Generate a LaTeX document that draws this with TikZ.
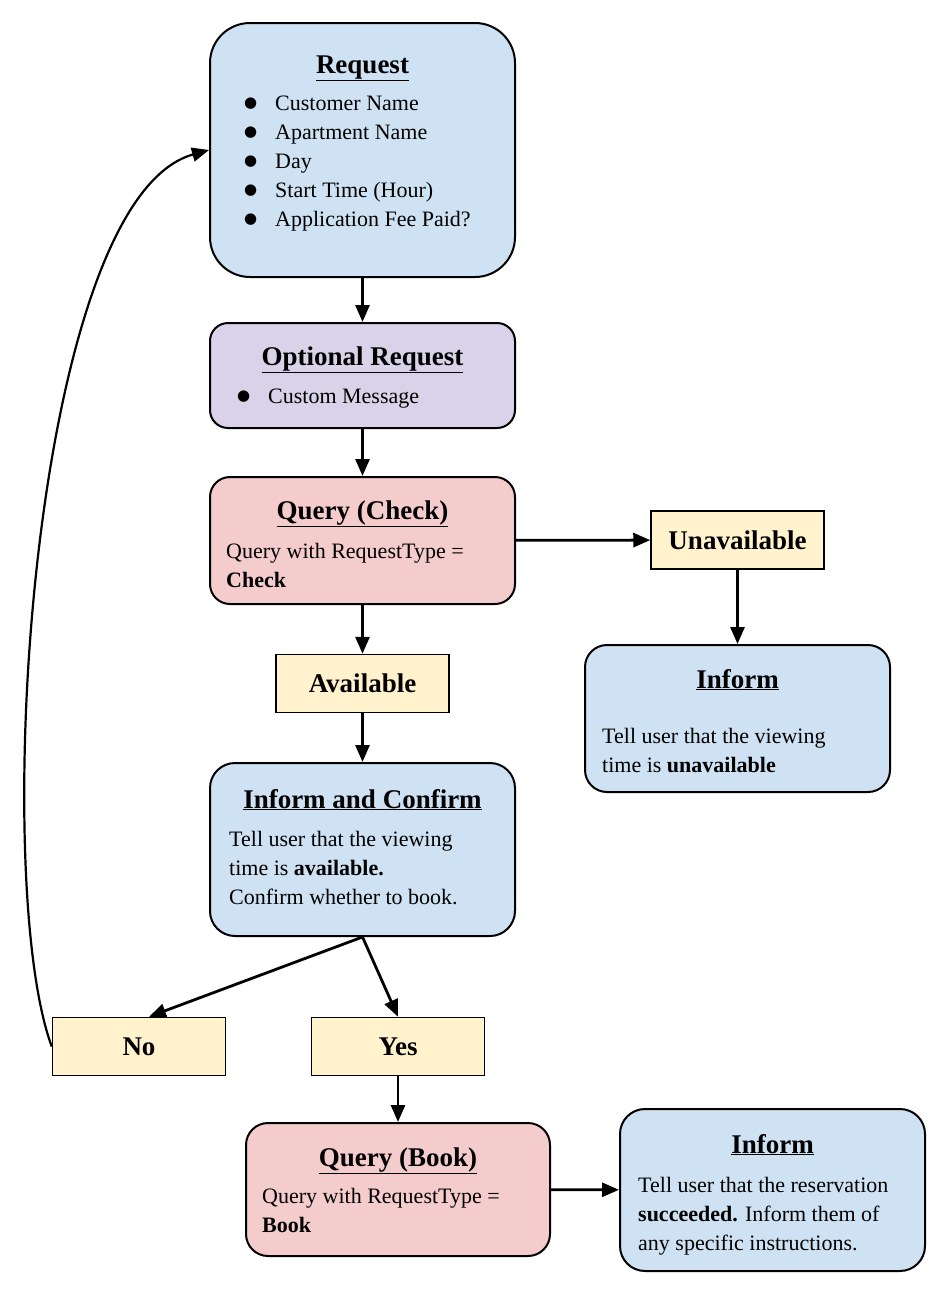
\documentclass[tikz,border=0pt]{standalone}
\usepackage{fontspec}
\setmainfont{Liberation Serif}
\newfontfamily\symfont{DejaVu Sans}
\usetikzlibrary{arrows.meta}

\definecolor{blueF}{HTML}{CFE2F3}
\definecolor{purpleF}{HTML}{D9D2E9}
\definecolor{redF}{HTML}{F4CCCC}
\definecolor{yellowF}{HTML}{FFF2CC}

\newcommand{\bul}{\makebox[31pt][l]{\symfont\fontsize{15}{29}\selectfont\raisebox{3pt}{●}}}

\begin{document}
\begin{tikzpicture}[
    x=1pt, y=-1pt,
    box/.style={draw, line width=2pt, rounded corners=#1, minimum width=305pt, inner sep=0pt},
    tag/.style={draw, line width=1.5pt, fill=yellowF, minimum width=173pt, minimum height=58pt, font=\fontsize{27}{32}\selectfont\bfseries},
    ttl/.style={anchor=base, inner sep=0pt, font=\fontsize{27}{32}\selectfont\bfseries},
    txt/.style={anchor=base west, inner sep=0pt, font=\fontsize{22}{29}\selectfont},
    arrow/.style={-{Triangle[length=17pt,width=14pt]}, line width=2.8pt}
]
    \useasboundingbox (0,0) rectangle (951,1307);

    % Boxes
    \node[box=40pt, fill=blueF, minimum height=254pt] (req) at (362.5,150) {};
    \node[box=18pt, fill=purpleF, minimum height=105pt] (opt) at (362.5,375.5) {};
    \node[box=20pt, fill=redF, minimum height=127pt] (qcheck) at (362.5,540.5) {};
    \node[tag] (unavail) at (737.5,540) {Unavailable};
    \node[tag] (avail) at (362.5,683.5) {Available};
    \node[box=22pt, fill=blueF, minimum height=147pt] (informA) at (737.5,718.5) {};
    \node[box=25pt, fill=blueF, minimum height=173pt] (confirm) at (362.5,849.5) {};
    \node[tag] (no) at (139,1046.5) {No};
    \node[tag] (yes) at (398,1046.5) {Yes};
    \node[box=22pt, fill=redF, minimum height=133pt, minimum width=304pt] (qbook) at (398,1189.5) {};
    \node[box=25pt, fill=blueF, minimum height=162pt] (informB) at (772.5,1190) {};

    % Titles
    \node[ttl] (reqT) at (362.5,73) {\underline{Request}};
    \node[ttl] (optT) at (362.5,365) {\underline{Optional Request}};
    \node[ttl] (qcheckT) at (362.5,519) {\underline{Query (Check)}};
    \node[ttl] (informAT) at (737.5,688) {\underline{Inform}};
    \node[ttl] (confirmT) at (362.5,808) {\underline{Inform and Confirm}};
    \node[ttl] (qbookT) at (398,1166) {\underline{Query (Book)}};
    \node[ttl] (informBT) at (772.5,1153) {\underline{Inform}};

    % Texts
    \node[txt] (reqL) at (244,110) {\parbox[t]{260pt}{\bul Customer Name\\ \bul Apartment Name\\ \bul Day\\ \bul Start Time (Hour)\\ \bul Application Fee Paid?}};
    \node[txt] (optL) at (237,403) {\parbox[t]{260pt}{\bul Custom Message}};
    \node[txt] (qcheckL) at (226,558) {\parbox[t]{280pt}{Query with RequestType =\\ \textbf{Check}}};
    \node[txt] (informAL) at (602,743) {\parbox[t]{280pt}{Tell user that the viewing\\ time is \textbf{unavailable}}};
    \node[txt] (confirmL) at (229,846) {\parbox[t]{280pt}{Tell user that the viewing\\ time is \textbf{available.}\\ Confirm whether to book.}};
    \node[txt] (qbookL) at (262,1203) {\parbox[t]{280pt}{Query with RequestType =\\ \textbf{Book}}};
    \node[txt] (informBL) at (638,1192) {\parbox[t]{290pt}{Tell user that the reservation\\ \textbf{succeeded.} Inform them of\\ any specific instructions.}};

    % Connectors
    \draw[arrow] (req) -- (opt);
    \draw[arrow] (opt) -- (qcheck);
    \draw[arrow] (qcheck) -- (unavail);
    \draw[arrow] (unavail) -- (informA);
    \draw[arrow] (qcheck) -- (avail);
    \draw[arrow] (avail) -- (confirm);
    \draw[arrow] (confirm.south) -- ([xshift=10pt]no.north);
    \draw[arrow] (confirm.south) -- (yes.north);
    \draw[arrow] (yes) -- (qbook);
    \draw[arrow] (qbook) -- (informB);

    % Back to request
    \draw[arrow, line width=2.2pt] (no.west) .. controls (-10,880) and (30,200) .. (req.west);
\end{tikzpicture}
\end{document}
